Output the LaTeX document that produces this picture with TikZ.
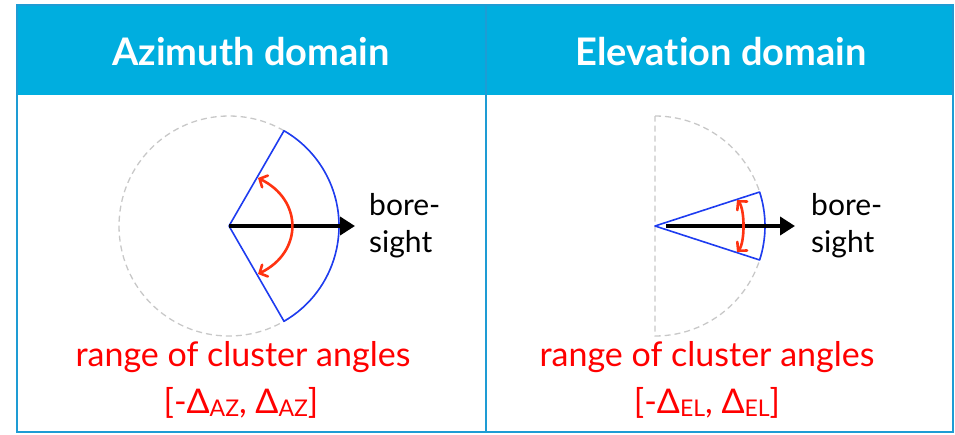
\documentclass[tikz,border=0pt]{standalone}
\usepackage{fontspec}
\setmainfont{Lato}[Ligatures=NoCommon]
\usetikzlibrary{positioning, arrows.meta}
\usepackage{xcolor}
\definecolor{headCyan}{HTML}{00AEDF}
\definecolor{frameBlue}{HTML}{1E9CD4}
\definecolor{sectorBlue}{HTML}{1E3CF0}
\definecolor{rangeRed}{HTML}{FF0000}
\definecolor{swingRed}{HTML}{FF3311}
\definecolor{ringGray}{HTML}{C8C8C8}

\newcommand{\lowsub}[1]{\raisebox{-3pt}{\fontsize{23}{23}\selectfont #1}}

\begin{document}
\begin{tikzpicture}[
    x=1pt, y=-1pt,
    header/.style={font=\fontsize{38}{40}\selectfont\bfseries, text=white, anchor=base, inner sep=0pt},
    ring/.style={draw=ringGray, dash pattern=on 6pt off 4pt, line width=1.3pt},
    sector/.style={draw=sectorBlue, line width=1.6pt, line join=round},
    bore/.style={line width=4.5pt, -{Triangle[length=15pt, width=18pt]}},
    swing/.style={draw=swingRed, line width=2.6pt, line cap=round,
        {Straight Barb[length=6pt, width=13pt, line cap=round]}-{Straight Barb[length=6pt, width=13pt, line cap=round]}},
    borelabel/.style={font=\fontsize{30}{32}\selectfont, anchor=base west, inner sep=0pt},
    rangelabel/.style={font=\fontsize{34}{36}\selectfont, text=rangeRed, anchor=base, inner sep=0pt},
]
\useasboundingbox (0,0) rectangle (955,434);

% ============================================
% Table frame
% ============================================
\fill[headCyan] (17,5) rectangle (953,95);
\draw[frameBlue, line width=1.6pt] (17,5) rectangle (953,432);
\draw[frameBlue, line width=1.6pt] (486,5) -- (486,432);

\node[header] (azhead) at (251,65) {Azimuth domain};
\node[header] (elhead) at (721,65) {Elevation domain};

% ============================================
% Azimuth domain (left)
% ============================================
\coordinate (azc) at (229,226);
\coordinate (azend) at (355,226);
\coordinate (azup) at (258,178);
\coordinate (azdown) at (258,274);

\draw[ring] (azc) circle (110);
\draw[sector] (azc) -- ++(60:110) arc[start angle=60, end angle=-60, radius=110] -- cycle;
\draw[bore] (azc) -- (azend);
\draw[swing] (azup) .. controls +(45,22) and +(45,-22) .. (azdown);

\node[borelabel] (azbore) at (369,215) {bore-};
\node[borelabel] (azsight) at (369,252) {sight};

\node[rangelabel] (azrange) at (243,366) {range of cluster angles};
\node[rangelabel] (azlimits) at (241,413) {[-Δ\lowsub{AZ}, Δ\lowsub{AZ}]};

% ============================================
% Elevation domain (right)
% ============================================
\coordinate (elc) at (655,226);
\coordinate (elstart) at (666,226);
\coordinate (elend) at (795,226);
\coordinate (elup) at (737,200);
\coordinate (eldown) at (737,252);

\draw[ring] (elc) ++(-90:110) arc[start angle=-90, end angle=90, radius=110] -- cycle;
\draw[sector] (elc) -- ++(18:110) arc[start angle=18, end angle=-18, radius=110] -- cycle;
\draw[bore] (elstart) -- (elend);
\draw[swing] (elup) .. controls +(8,9) and +(8,-9) .. (eldown);

\node[borelabel] (elbore) at (811,215) {bore-};
\node[borelabel] (elsight) at (811,252) {sight};

\node[rangelabel] (elrange) at (707,366) {range of cluster angles};
\node[rangelabel] (ellimits) at (707,413) {[-Δ\lowsub{EL}, Δ\lowsub{EL}]};

\end{tikzpicture}
\end{document}
